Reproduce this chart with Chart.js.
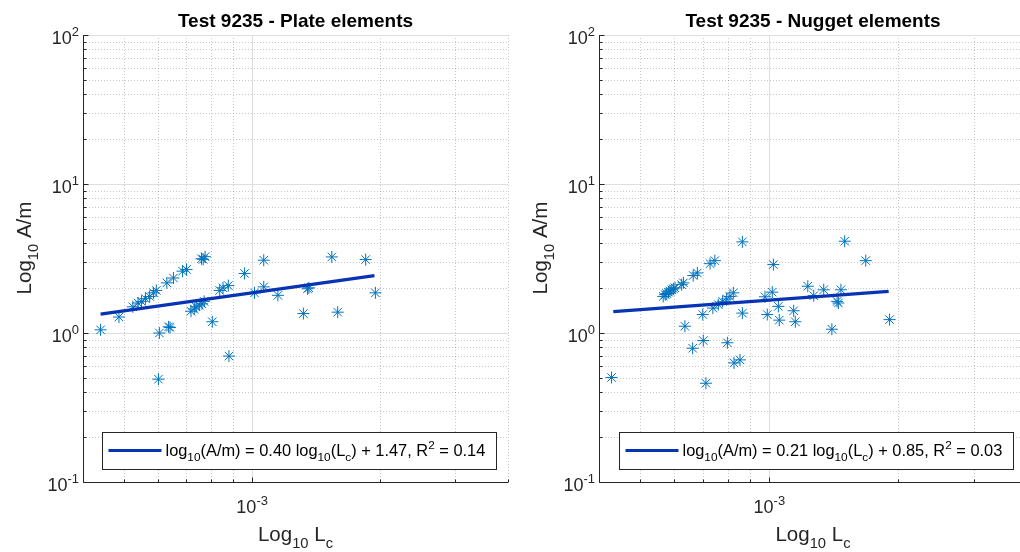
<!DOCTYPE html>
<html>
<head>
<meta charset="utf-8">
<script src="https://cdn.jsdelivr.net/npm/chart.js@4.4.1/dist/chart.umd.min.js"></script>
<style>
html, body { margin: 0; padding: 0; background: #fff; overflow: hidden; }
#wrap { position: relative; width: 1020px; height: 552px; overflow: hidden; }
#plate { position: absolute; left: 0; top: 0; }
#nugget { position: absolute; left: 515px; top: 0; }
</style>
</head>
<body>
<div id="wrap">
<canvas id="plate" width="515" height="552"></canvas>
<canvas id="nugget" width="520" height="552"></canvas>
</div>
<script>
// Plate elements: critical length Lc vs A/m
const plateLc = [4.40e-4, 4.86e-4, 5.24e-4, 5.39e-4, 5.49e-4, 5.61e-4, 5.74e-4, 5.86e-4, 5.95e-4, 6.30e-4,
    6.53e-4, 6.86e-4, 7.01e-4, 7.60e-4, 7.75e-4, 7.67e-4, 6.05e-4, 6.36e-4, 6.41e-4, 6.02e-4,
    7.18e-4, 7.31e-4, 7.38e-4, 7.51e-4, 7.62e-4, 7.71e-4, 8.06e-4, 8.39e-4, 8.54e-4, 8.79e-4,
    8.82e-4, 9.60e-4, 1.013e-3, 1.065e-3, 1.065e-3, 1.15e-3, 1.32e-3, 1.35e-3, 1.36e-3, 1.54e-3,
    1.59e-3, 1.85e-3, 1.95e-3];
const plateAm = [1.05, 1.28, 1.50, 1.59, 1.63, 1.70, 1.76, 1.86, 1.93, 2.17,
    2.34, 2.60, 2.67, 3.15, 3.25, 3.12, 1.00, 1.10, 1.09, 0.49,
    1.40, 1.45, 1.50, 1.54, 1.57, 1.63, 1.19, 1.93, 2.01, 2.08,
    0.70, 2.51, 1.86, 3.08, 2.04, 1.79, 1.35, 1.98, 2.01, 3.24,
    1.38, 3.11, 1.86];
const plateFitLc = [4.40e-4, 1.94e-3];
const plateFitAm = [1.34, 2.43];

// Nugget elements
const nuggetLc = [4.28e-4, 5.65e-4, 5.71e-4, 5.76e-4, 5.81e-4, 5.86e-4, 5.92e-4, 5.97e-4, 6.02e-4, 6.24e-4,
    6.30e-4, 6.64e-4, 6.79e-4, 7.27e-4, 7.46e-4, 8.65e-4, 6.35e-4, 6.62e-4, 6.99e-4, 7.01e-4,
    7.11e-4, 7.38e-4, 7.60e-4, 7.78e-4, 7.95e-4, 8.09e-4, 8.24e-4, 7.98e-4, 8.27e-4, 8.54e-4,
    8.65e-4, 9.77e-4, 9.89e-4, 1.016e-3, 1.022e-3, 1.05e-3, 1.055e-3, 1.14e-3, 1.15e-3, 1.23e-3,
    1.27e-3, 1.34e-3, 1.40e-3, 1.44e-3, 1.45e-3, 1.47e-3, 1.50e-3, 1.68e-3, 1.91e-3];
const nuggetAm = [0.503, 1.76, 1.81, 1.84, 1.88, 1.91, 1.95, 1.98, 2.01, 2.11,
    2.17, 2.43, 2.53, 2.92, 3.06, 4.09, 1.11, 0.79, 1.33, 0.89,
    0.46, 1.47, 1.55, 1.63, 1.69, 1.76, 1.86, 0.86, 0.63, 0.66,
    1.36, 1.75, 1.33, 1.88, 2.88, 1.51, 1.22, 1.41, 1.19, 2.06,
    1.78, 1.95, 1.06, 1.63, 1.59, 1.95, 4.13, 3.06, 1.23];
const nuggetFitLc = [4.32e-4, 1.90e-3];
const nuggetFitAm = [1.39, 1.90];

// axes
const xMin = 4e-4, xMax = 4e-3;
const yMin = 0.1, yMax = 100;
const xMajorTicks = [1e-3];
const xTickExps = ['-3'];
const xMinorTicks = [5e-4, 6e-4, 7e-4, 8e-4, 9e-4, 2e-3, 3e-3, 4e-3];
const yMajorTicks = [0.1, 1, 10, 100];
const yTickExps = ['-1', '0', '1', '2'];
const yMinorTicks = [];
yMajorTicks.slice(0, -1).forEach(d => {
    for (let k = 2; k <= 9; k++) yMinorTicks.push(d * k);
});

const FONT = '"Liberation Sans", Arial, Helvetica, sans-serif';
const INK = '#262626';
const DOT_BLUE = '#0072BD';
const FIT_BLUE = '#0634b4';

// parts: [text, 'n' normal | 'b' subscript | 'p' superscript]
function drawRich(ctx, parts, x, y, size, align, weight) {
    const small = size * 0.72;
    const w = weight ? weight + ' ' : '';
    const widths = parts.map(p => {
        ctx.font = w + (p[1] === 'n' ? size : small) + 'px ' + FONT;
        return ctx.measureText(p[0]).width;
    });
    const total = widths.reduce((a, b) => a + b, 0);
    let cx = align === 'center' ? x - total / 2 : align === 'right' ? x - total : x;
    ctx.textAlign = 'left';
    ctx.textBaseline = 'alphabetic';
    parts.forEach((p, i) => {
        ctx.font = w + (p[1] === 'n' ? size : small) + 'px ' + FONT;
        const dy = p[1] === 'b' ? size * 0.32 : p[1] === 'p' ? -size * 0.42 : 0;
        ctx.fillText(p[0], cx, y + dy);
        cx += widths[i];
    });
}

const decorPlugin = {
    id: 'decor',
    beforeDatasetsDraw(chart) {
        const { ctx, chartArea: a, scales: { x, y } } = chart;
        ctx.save();
        ctx.lineWidth = 1;
        // minor grid, dotted
        ctx.strokeStyle = 'rgba(38,38,38,0.25)';
        ctx.setLineDash([1, 2]);
        ctx.beginPath();
        xMinorTicks.forEach(v => {
            const px = Math.round(x.getPixelForValue(v)) + 0.5;
            ctx.moveTo(px, a.top); ctx.lineTo(px, a.bottom);
        });
        yMinorTicks.forEach(v => {
            const py = Math.round(y.getPixelForValue(v)) + 0.5;
            ctx.moveTo(a.left, py); ctx.lineTo(a.right, py);
        });
        ctx.stroke();
        // major grid
        ctx.setLineDash([]);
        ctx.strokeStyle = '#dedede';
        ctx.beginPath();
        xMajorTicks.forEach(v => {
            const px = Math.round(x.getPixelForValue(v)) + 0.5;
            ctx.moveTo(px, a.top); ctx.lineTo(px, a.bottom);
        });
        yMajorTicks.forEach(v => {
            const py = Math.round(y.getPixelForValue(v)) + 0.5;
            ctx.moveTo(a.left, py); ctx.lineTo(a.right, py);
        });
        ctx.stroke();
        ctx.restore();
    },
    afterDraw(chart, args, opts) {
        const { ctx, chartArea: a, scales: { x, y } } = chart;
        const left = Math.round(a.left) + 0.5;
        const bottom = Math.round(a.bottom) + 0.5;
        const rightEdge = x.getPixelForValue(xMax);
        const midX = (a.left + rightEdge) / 2;
        ctx.save();
        // axis lines
        ctx.strokeStyle = INK;
        ctx.lineWidth = 1;
        ctx.beginPath();
        ctx.moveTo(left, a.top); ctx.lineTo(left, bottom); ctx.lineTo(a.right, bottom);
        // inward ticks
        yMajorTicks.forEach(v => {
            const py = Math.round(y.getPixelForValue(v)) + 0.5;
            ctx.moveTo(left, py); ctx.lineTo(left + 5, py);
        });
        yMinorTicks.forEach(v => {
            const py = Math.round(y.getPixelForValue(v)) + 0.5;
            ctx.moveTo(left, py); ctx.lineTo(left + 3, py);
        });
        xMajorTicks.forEach(v => {
            const px = Math.round(x.getPixelForValue(v)) + 0.5;
            ctx.moveTo(px, bottom); ctx.lineTo(px, bottom - 5);
        });
        xMinorTicks.forEach(v => {
            const px = Math.round(x.getPixelForValue(v)) + 0.5;
            ctx.moveTo(px, bottom); ctx.lineTo(px, bottom - 3);
        });
        ctx.stroke();

        // tick labels
        ctx.fillStyle = INK;
        yMajorTicks.forEach((v, i) => {
            drawRich(ctx, [['10', 'n'], [yTickExps[i], 'p']], a.left - 4, y.getPixelForValue(v) + 9, 18, 'right');
        });
        xMajorTicks.forEach((v, i) => {
            drawRich(ctx, [['10', 'n'], [xTickExps[i], 'p']], x.getPixelForValue(v), 513, 18, 'center');
        });

        // axis titles
        drawRich(ctx, [['Log', 'n'], ['10', 'b'], [' L', 'n'], ['c', 'b']], midX, 541, 20.5, 'center');
        ctx.save();
        ctx.translate(a.left - 52, 248);
        ctx.rotate(-Math.PI / 2);
        drawRich(ctx, [['Log', 'n'], ['10', 'b'], [' A/m', 'n']], 0, 0, 20.5, 'center');
        ctx.restore();

        // title
        ctx.fillStyle = '#000';
        drawRich(ctx, [[opts.title, 'n']], midX, 27, 19, 'center', 'bold');

        // legend
        const bw = 394, bh = 37;
        const bx = Math.round(midX + 3 - bw / 2) + 0.5, by = 432.5;
        ctx.fillStyle = '#fff';
        ctx.fillRect(bx, by, bw, bh);
        ctx.strokeStyle = INK;
        ctx.strokeRect(bx, by, bw, bh);
        ctx.strokeStyle = FIT_BLUE;
        ctx.lineWidth = 3;
        ctx.beginPath();
        ctx.moveTo(bx + 6, by + 18); ctx.lineTo(bx + 59, by + 18);
        ctx.stroke();
        ctx.fillStyle = '#000';
        drawRich(ctx, opts.legend, bx + 63, by + 23, 16.4, 'left');
        ctx.restore();
    }
};

function makeChart(id, lc, am, fitLc, fitAm, padLeft, padRight, title, legendParts) {
    return new Chart(document.getElementById(id), {
        type: 'scatter',
        data: {
            datasets: [{
                data: fitLc.map((v, i) => ({ x: v, y: fitAm[i] })),
                showLine: true,
                borderColor: FIT_BLUE,
                borderWidth: 3.2,
                pointRadius: 0,
                order: 0
            }, {
                data: lc.map((v, i) => ({ x: v, y: am[i] })),
                pointStyle: 'star',
                pointRadius: 6,
                borderColor: DOT_BLUE,
                backgroundColor: DOT_BLUE,
                borderWidth: 1,
                order: 1
            }]
        },
        options: {
            responsive: false,
            animation: false,
            events: [],
            layout: { padding: { left: padLeft, right: padRight, top: 35, bottom: 70 } },
            scales: {
                x: { type: 'logarithmic', min: xMin, max: xMax, display: false },
                y: { type: 'logarithmic', min: yMin, max: yMax, display: false }
            },
            plugins: {
                legend: { display: false },
                tooltip: { enabled: false },
                decor: { title: title, legend: legendParts }
            }
        },
        plugins: [decorPlugin]
    });
}

makeChart('plate', plateLc, plateAm, plateFitLc, plateFitAm, 83, 4,
    'Test 9235 - Plate elements',
    [['log', 'n'], ['10', 'b'], ['(A/m) = 0.40 log', 'n'], ['10', 'b'], ['(L', 'n'], ['c', 'b'],
     [') + 1.47, R', 'n'], ['2', 'p'], [' = 0.14', 'n']]);

makeChart('nugget', nuggetLc, nuggetAm, nuggetFitLc, nuggetFitAm, 84, 8,
    'Test 9235 - Nugget elements',
    [['log', 'n'], ['10', 'b'], ['(A/m) = 0.21 log', 'n'], ['10', 'b'], ['(L', 'n'], ['c', 'b'],
     [') + 0.85, R', 'n'], ['2', 'p'], [' = 0.03', 'n']]);
</script>
</body>
</html>
